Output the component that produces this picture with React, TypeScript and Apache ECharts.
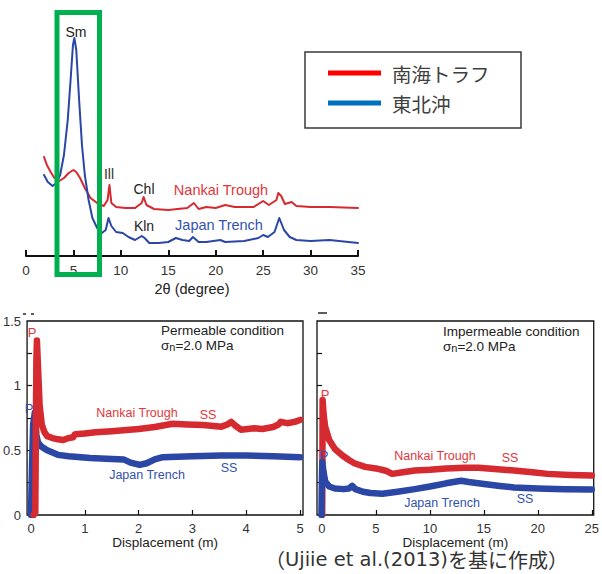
import React, { useEffect, useRef } from "react";
import * as echarts from "echarts";

// XRD patterns (2θ in degrees, relative intensity)
const xrdNankai: [number, number][] = [
  [1.9, 99], [2.2, 91], [2.6, 84], [3.0, 78], [3.5, 75], [4.0, 78], [4.5, 83], [5.0, 86], [5.3, 84],
  [5.7, 78], [6.2, 68], [6.8, 58], [7.5, 53], [8.2, 50], [8.6, 56], [8.8, 71], [9.0, 53], [9.5, 49],
  [10.5, 48], [11.5, 48], [12.2, 53], [12.4, 59], [12.7, 51], [13.5, 47], [15, 46], [17, 48], [17.7, 53],
  [18.2, 47], [19, 49], [20, 48], [21, 51], [22, 49], [24, 49], [25, 55], [25.6, 51], [26.4, 56],
  [26.6, 63], [26.9, 60], [27.3, 52], [28, 54], [28.5, 50], [30, 49], [32, 49], [35, 48],
];
const xrdJapan: [number, number][] = [
  [1.9, 81], [2.3, 74], [2.8, 70], [3.2, 73], [3.6, 81], [4.0, 101], [4.4, 136], [4.7, 176], [4.95, 211],
  [5.1, 218], [5.3, 206], [5.6, 156], [5.9, 111], [6.2, 81], [6.6, 56], [7.0, 38], [7.5, 28], [8.0, 23],
  [8.4, 26], [8.7, 38], [9.0, 30], [9.5, 24], [10.2, 23], [10.8, 19], [11.5, 16], [12.2, 20], [12.5, 18],
  [13, 13], [14, 13], [15, 14], [15.8, 18], [16.5, 16], [17.2, 15], [17.6, 19], [18.2, 14], [19, 14],
  [20.5, 16], [21, 14], [23, 15], [24.5, 18], [25, 21], [25.5, 19], [26.2, 24], [26.7, 38], [27.2, 26],
  [27.8, 19], [28.5, 16], [30, 15], [32, 16], [35, 13],
];
const xrdTicks = [0, 5, 10, 15, 20, 25, 30, 35];

// Friction coefficient vs displacement, permeable condition
const permNankai: [number, number][] = [
  [0.05, 0], [0.08, 0.02], [0.09, 0.6], [0.1, 1.2], [0.11, 1.35], [0.13, 1.15], [0.16, 0.85], [0.2, 0.7],
  [0.25, 0.64], [0.3, 0.61], [0.4, 0.595], [0.5, 0.585], [0.6, 0.58], [0.7, 0.595], [0.78, 0.6], [0.82, 0.625],
  [1.0, 0.63], [1.2, 0.64], [1.5, 0.648], [1.72, 0.655], [2.0, 0.665], [2.3, 0.68], [2.63, 0.705], [2.9, 0.7],
  [3.2, 0.695], [3.54, 0.683], [3.65, 0.7], [3.72, 0.72], [3.8, 0.69], [3.9, 0.66], [4.15, 0.67], [4.3, 0.665],
  [4.5, 0.68], [4.6, 0.7], [4.64, 0.72], [4.76, 0.71], [4.9, 0.72], [5.0, 0.735],
];
const permJapan: [number, number][] = [
  [0, 0], [0.02, 0.4], [0.04, 0.7], [0.07, 0.79], [0.1, 0.62], [0.13, 0.56], [0.19, 0.53], [0.3, 0.5],
  [0.5, 0.465], [0.7, 0.455], [1.1, 0.44], [1.4, 0.435], [1.72, 0.43], [1.85, 0.405], [2.02, 0.387],
  [2.15, 0.4], [2.3, 0.43], [2.45, 0.447], [3.0, 0.455], [3.54, 0.46], [4.0, 0.46], [4.5, 0.455],
  [5.0, 0.447],
];
// Impermeable condition
const impNankai: [number, number][] = [
  [0.02, 0], [0.04, 0.3], [0.06, 0.89], [0.15, 0.78], [0.3, 0.68], [0.67, 0.58], [1.2, 0.51], [1.9, 0.46],
  [2.5, 0.425], [3, 0.4], [4, 0.372], [5, 0.36], [6, 0.34], [6.5, 0.318], [7.5, 0.33], [8.6, 0.344],
  [10, 0.35], [11.5, 0.36], [13.2, 0.365], [14.5, 0.365], [16, 0.355], [17.8, 0.344], [19.5, 0.33],
  [20.9, 0.318], [23, 0.31], [25, 0.305],
];
const impJapan: [number, number][] = [
  [-0.05, 0], [0, 0.3], [0.03, 0.41], [0.15, 0.33], [0.3, 0.26], [0.67, 0.22], [1.2, 0.205], [2, 0.2],
  [2.5, 0.205], [2.8, 0.225], [3.1, 0.2], [3.8, 0.18], [4.5, 0.17], [5.6, 0.165], [7, 0.18], [8.6, 0.2],
  [10, 0.22], [11.5, 0.245], [12.9, 0.265], [13.6, 0.255], [15, 0.24], [16.5, 0.225], [17.8, 0.213],
  [20, 0.205], [22.5, 0.2], [25, 0.198],
];
const permTicks = [0, 1, 2, 3, 4, 5];
const impTicks = [0, 5, 10, 15, 20, 25];
const muLabels = [0, 0.5, 1, 1.5];
const muTicks = [0.25, 0.5, 0.75, 1, 1.25];

const RED = "#d42a30";
const BLUE = "#2a47a6";
const RED_T = "#e0373d";
const BLUE_T = "#3352b0";
const SANS = "'Liberation Sans', Arial, sans-serif";
const JP = "'Noto Sans CJK JP', sans-serif";

function txt(text: string, x: number, y: number, fill: string, size: number, align = "center", font = SANS) {
  return {
    type: "text",
    x,
    y,
    z: 50,
    style: { text, fill, font: `${size}px ${font}`, textAlign: align, textVerticalAlign: "middle" },
  };
}

function sigma(x: number, y: number) {
  return {
    type: "text",
    x,
    y,
    z: 50,
    style: {
      text: "{a|σ}{b|n}{a|=2.0 MPa}",
      textAlign: "left",
      textVerticalAlign: "middle",
      rich: {
        a: { fontSize: 13.5, fontFamily: SANS, fill: "#222", lineHeight: 14, verticalAlign: "top" },
        b: { fontSize: 11, fontFamily: SANS, fill: "#222", lineHeight: 8, verticalAlign: "bottom" },
      },
    },
  };
}

const bottomX = (idx: number, min: number, max: number, ticks: number[]) => ({
  gridIndex: idx,
  type: "value",
  min,
  max,
  axisLine: { show: false, onZero: false },
  axisTick: { show: true, inside: true, length: 5, customValues: ticks, lineStyle: { color: "#111", width: 1.2 } },
  axisLabel: { customValues: ticks, margin: 7, fontSize: 13, color: "#333", fontFamily: SANS },
  splitLine: { show: false },
  name: "Displacement (m)",
  nameLocation: "middle",
  nameGap: 20,
  nameTextStyle: { fontSize: 13.5, color: "#222", fontFamily: SANS },
});

const bottomY = (idx: number, labels: boolean) => ({
  gridIndex: idx,
  type: "value",
  min: 0,
  max: 1.5,
  axisLine: { show: false, onZero: false },
  axisTick: { show: true, inside: true, length: 5, customValues: muTicks, lineStyle: { color: "#111", width: 1.2 } },
  axisLabel: { show: labels, customValues: muLabels, margin: 6, fontSize: 13, color: "#333", fontFamily: SANS },
  splitLine: { show: false },
});

const line = (x: number, data: [number, number][], color: string, width: number) => ({
  type: "line",
  xAxisIndex: x,
  yAxisIndex: x,
  data,
  showSymbol: false,
  symbol: "none",
  lineStyle: { color, width, join: "round", cap: "round" },
  silent: true,
});

const dash = (x1: number, x2: number, y: number) => ({
  type: "line",
  z: 45,
  shape: { x1, y1: y, x2, y2: y },
  style: { stroke: "#333", lineWidth: 1.6 },
});

export default function App() {
  const ref = useRef<HTMLDivElement>(null);
  useEffect(() => {
    const chart = echarts.init(ref.current!, null, { renderer: "svg" });
    chart.setOption({
      animation: false,
      backgroundColor: "#fff",
      grid: [
        { left: 26, right: 244, top: 36, bottom: 318, show: false },
        { left: 22, right: 299, top: 321, bottom: 59, show: true, borderColor: "#111", borderWidth: 1.3 },
        { left: 317, right: 6, top: 321, bottom: 59, show: true, borderColor: "#111", borderWidth: 1.3 },
      ],
      xAxis: [
        {
          gridIndex: 0,
          type: "value",
          min: 0,
          max: 35,
          interval: 5,
          axisLine: { show: true, lineStyle: { color: "#111", width: 2 } },
          axisTick: { show: true, inside: true, length: 6, lineStyle: { color: "#111", width: 2 } },
          axisLabel: { margin: 7, fontSize: 13.5, color: "#333", fontFamily: SANS, customValues: xrdTicks },
          splitLine: { show: false },
          name: "2θ (degree)",
          nameLocation: "middle",
          nameGap: 25,
          nameTextStyle: { fontSize: 14.5, color: "#222", fontFamily: SANS },
        },
        bottomX(1, -0.073, 5.055, permTicks),
        bottomX(2, -0.46, 25.18, impTicks),
      ],
      yAxis: [
        { gridIndex: 0, type: "value", min: 0, max: 220, show: false },
        bottomY(1, true),
        bottomY(2, false),
      ],
      series: [
        line(0, xrdNankai, RED, 2),
        line(0, xrdJapan, BLUE, 2),
        line(1, permJapan, BLUE, 6.5),
        line(1, permNankai, RED, 6.5),
        line(2, impNankai, RED, 6.5),
        line(2, impJapan, BLUE, 6.5),
      ],
      graphic: [
        // highlight box around smectite peak
        {
          type: "rect",
          z: 60,
          shape: { x: 57, y: 12.5, width: 42.5, height: 262 },
          style: { fill: "none", stroke: "#00b050", lineWidth: 5 },
        },
        // legend
        {
          type: "rect",
          z: 40,
          shape: { x: 305, y: 52, width: 216, height: 76 },
          style: { fill: "#fff", stroke: "#3a3a3a", lineWidth: 1.5 },
        },
        { type: "line", z: 45, shape: { x1: 328, y1: 73, x2: 381, y2: 73 }, style: { stroke: "#ff0000", lineWidth: 5 } },
        { type: "line", z: 45, shape: { x1: 328, y1: 103, x2: 381, y2: 103 }, style: { stroke: "#0070c0", lineWidth: 5 } },
        txt("南海トラフ", 392, 73, "#404040", 19.5, "left", JP),
        txt("東北沖", 392, 103, "#404040", 19.5, "left", JP),
        // XRD annotations
        txt("Sm", 76, 32, "#222", 14),
        txt("Ill", 109, 174, "#333", 14),
        txt("Chl", 144, 189, "#222", 14),
        txt("Kln", 144, 226, "#222", 14),
        txt("Nankai Trough", 221, 190, RED_T, 14.5),
        txt("Japan Trench", 219, 225, BLUE_T, 14.5),
        // cropped marks above the lower panels
        dash(23, 26, 314),
        dash(31, 34, 314),
        dash(318, 327, 313),
        // permeable
        txt("P", 32, 332, RED_T, 13),
        txt("P", 29, 408, BLUE_T, 13),
        txt("Nankai Trough", 137, 413, RED_T, 12.5),
        txt("SS", 208, 415, RED_T, 12.5),
        txt("Japan Trench", 147, 475, BLUE_T, 12.5),
        txt("SS", 229, 468, BLUE_T, 12.5),
        txt("Permeable condition", 161, 330, "#222", 13.5, "left"),
        sigma(161, 345),
        // impermeable
        txt("Impermeable condition", 443, 331, "#222", 13.5, "left"),
        sigma(443, 346),
        txt("P", 325, 394, RED_T, 13),
        txt("P", 324, 455, BLUE_T, 13),
        txt("Nankai Trough", 435, 456, RED_T, 12.5),
        txt("SS", 510, 458, RED_T, 12.5),
        txt("Japan Trench", 442, 503, BLUE_T, 12.5),
        txt("SS", 525, 499, BLUE_T, 12.5),
        // source
        {
          type: "text",
          x: 265,
          y: 559,
          z: 50,
          style: {
            text: "{j|（}{l|Ujiie et al.(2013)}{j|を基に作成）}",
            textAlign: "left",
            textVerticalAlign: "middle",
            rich: {
              j: { fontSize: 20, fontFamily: JP, fill: "#333", lineHeight: 22 },
              l: { fontSize: 19.5, fontFamily: "'DejaVu Sans', sans-serif", fill: "#333", lineHeight: 22 },
            },
          },
        },
      ],
    });
    return () => chart.dispose();
  }, []);
  return (
    <div
      ref={ref}
      style={{ position: "fixed", left: 0, top: 0, width: 602, height: 574, background: "#fff" }}
    />
  );
}
